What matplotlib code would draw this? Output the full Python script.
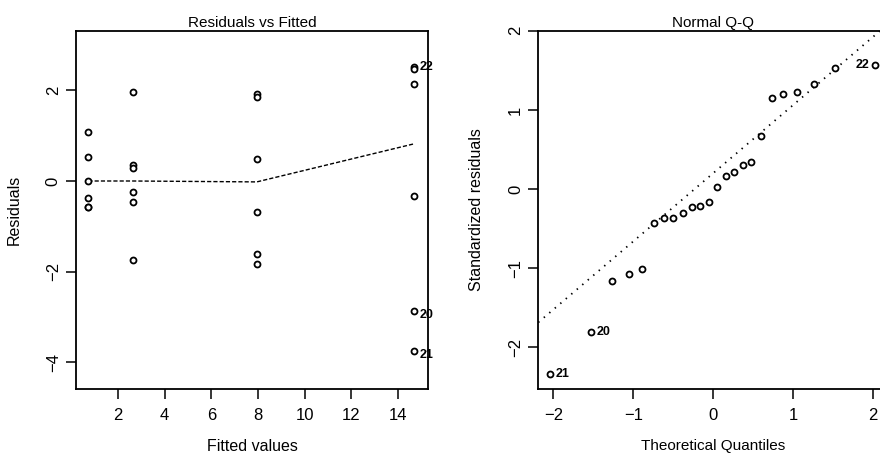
import matplotlib
matplotlib.use("Agg")
import matplotlib.pyplot as plt

plt.rcParams['font.family'] = ['Liberation Sans', 'DejaVu Sans']

# ---- Residuals vs Fitted data ----
fitted = [0.73, 0.73, 0.73, 0.73, 0.73, 0.73,
          2.63, 2.63, 2.63, 2.63, 2.63, 2.63,
          7.95, 7.95, 7.95, 7.95, 7.95, 7.95,
          14.69, 14.69, 14.69, 14.69, 14.69, 14.69]
residuals = [1.08, 0.54, 0.01, -0.37, -0.58, -0.58,
             1.96, 0.35, 0.28, -0.25, -0.47, -1.74,
             1.93, 1.85, 0.48, -0.68, -1.61, -1.83,
             2.51, 2.47, 2.15, -0.34, -2.86, -3.75]
smooth_x = [0.73, 2.63, 7.95, 14.69]
smooth_y = [0.0, 0.0, -0.02, 0.82]
rv_labels = ["22", "20", "21"]
rv_label_x = [14.69, 14.69, 14.69]
rv_label_y = [2.51, -2.86, -3.75]
rv_xticks = [2, 4, 6, 8, 10, 12, 14]
rv_yticks = [-4, -2, 0, 2]

# ---- Normal Q-Q data ----
theoretical = [-2.04, -1.53, -1.27, -1.06, -0.89, -0.74, -0.62, -0.50,
               -0.38, -0.27, -0.16, -0.05, 0.05, 0.16, 0.26, 0.37,
               0.48, 0.60, 0.74, 0.88, 1.05, 1.26, 1.53, 2.03]
std_resid = [-2.34, -1.80, -1.16, -1.07, -1.01, -0.43, -0.37, -0.37,
             -0.30, -0.23, -0.22, -0.16, 0.02, 0.17, 0.22, 0.30,
             0.345, 0.67, 1.15, 1.20, 1.22, 1.33, 1.53, 1.566]
qq_intercept = 0.20
qq_slope = 0.86
qq_labels = ["22", "20", "21"]
qq_label_x = [2.03, -1.53, -2.04]
qq_label_y = [1.566, -1.80, -2.34]
qq_label_side = ["left", "right", "right"]
qq_ticks = [-2, -1, 0, 1, 2]

W, H = 880, 462
fig = plt.figure(figsize=(W / 100, H / 100), dpi=100)

def px_axes(left, top, right, bottom):
    return fig.add_axes([left / W, 1 - bottom / H, (right - left) / W, (bottom - top) / H])

def style(ax):
    for s in ax.spines.values():
        s.set_linewidth(1.3)
        s.set_color('black')
    ax.tick_params(direction='out', length=7, width=1.1, labelsize=12, colors='black')
    ax.tick_params(axis='y', labelrotation=90, pad=4)
    ax.tick_params(axis='x', pad=7)
    for t in ax.get_yticklabels():
        t.set_va('center')

mk = dict(marker='o', linestyle='none', markersize=4.3, markerfacecolor='white',
          markeredgecolor='black', markeredgewidth=1.3)

# Left panel
ax1 = px_axes(76, 31, 428, 389)
ax1.plot(smooth_x, smooth_y, color='black', lw=1.0, dashes=(3, 1.5), zorder=2)
ax1.plot(fitted, residuals, zorder=3, **mk)
ax1.set_xlim(0.2, 15.29)
ax1.set_ylim(-4.59, 3.31)
ax1.set_xticks(rv_xticks)
ax1.set_yticks(rv_yticks)
style(ax1)
for lab, x, y in zip(rv_labels, rv_label_x, rv_label_y):
    ax1.annotate(lab, (x, y), xytext=(4, -3 if y < 0 else 0), textcoords='offset points',
                 ha='left', va='center', fontsize=9, fontweight='bold')
ax1.set_title("Residuals vs Fitted", fontsize=11, pad=3)
ax1.set_xlabel("Fitted values", fontsize=11.5)
ax1.set_ylabel("Residuals", fontsize=11.5)
ax1.xaxis.set_label_coords(0.5, -0.14)
ax1.yaxis.set_label_coords(-0.153, 0.5)

# Right panel
ax2 = px_axes(538.3, 30.7, 888, 389)
ax2.axline((0, qq_intercept), slope=qq_slope, color='black', lw=1.3,
           linestyle=(0, (0.8, 3.2)), zorder=2)
ax2.plot(theoretical, std_resid, zorder=3, **mk)
ax2.set_xlim(-2.19, 2.19)
ax2.set_ylim(-2.525, 2.0)
ax2.set_xticks(qq_ticks)
ax2.set_yticks(qq_ticks)
style(ax2)
for lab, x, y, side in zip(qq_labels, qq_label_x, qq_label_y, qq_label_side):
    off = (-4, 0) if side == "left" else (4, 0)
    ax2.annotate(lab, (x, y), xytext=off, textcoords='offset points',
                 ha='right' if side == "left" else 'left', va='center',
                 fontsize=9, fontweight='bold')
ax2.set_title("Normal Q-Q", fontsize=11, pad=3)
ax2.set_xlabel("Theoretical Quantiles", fontsize=11)
ax2.set_ylabel("Standardized residuals", fontsize=11.5)
ax2.xaxis.set_label_coords(0.5, -0.14)
ax2.yaxis.set_label_coords(-0.155, 0.5)

fig.savefig("out.png", dpi=100, facecolor='white')
